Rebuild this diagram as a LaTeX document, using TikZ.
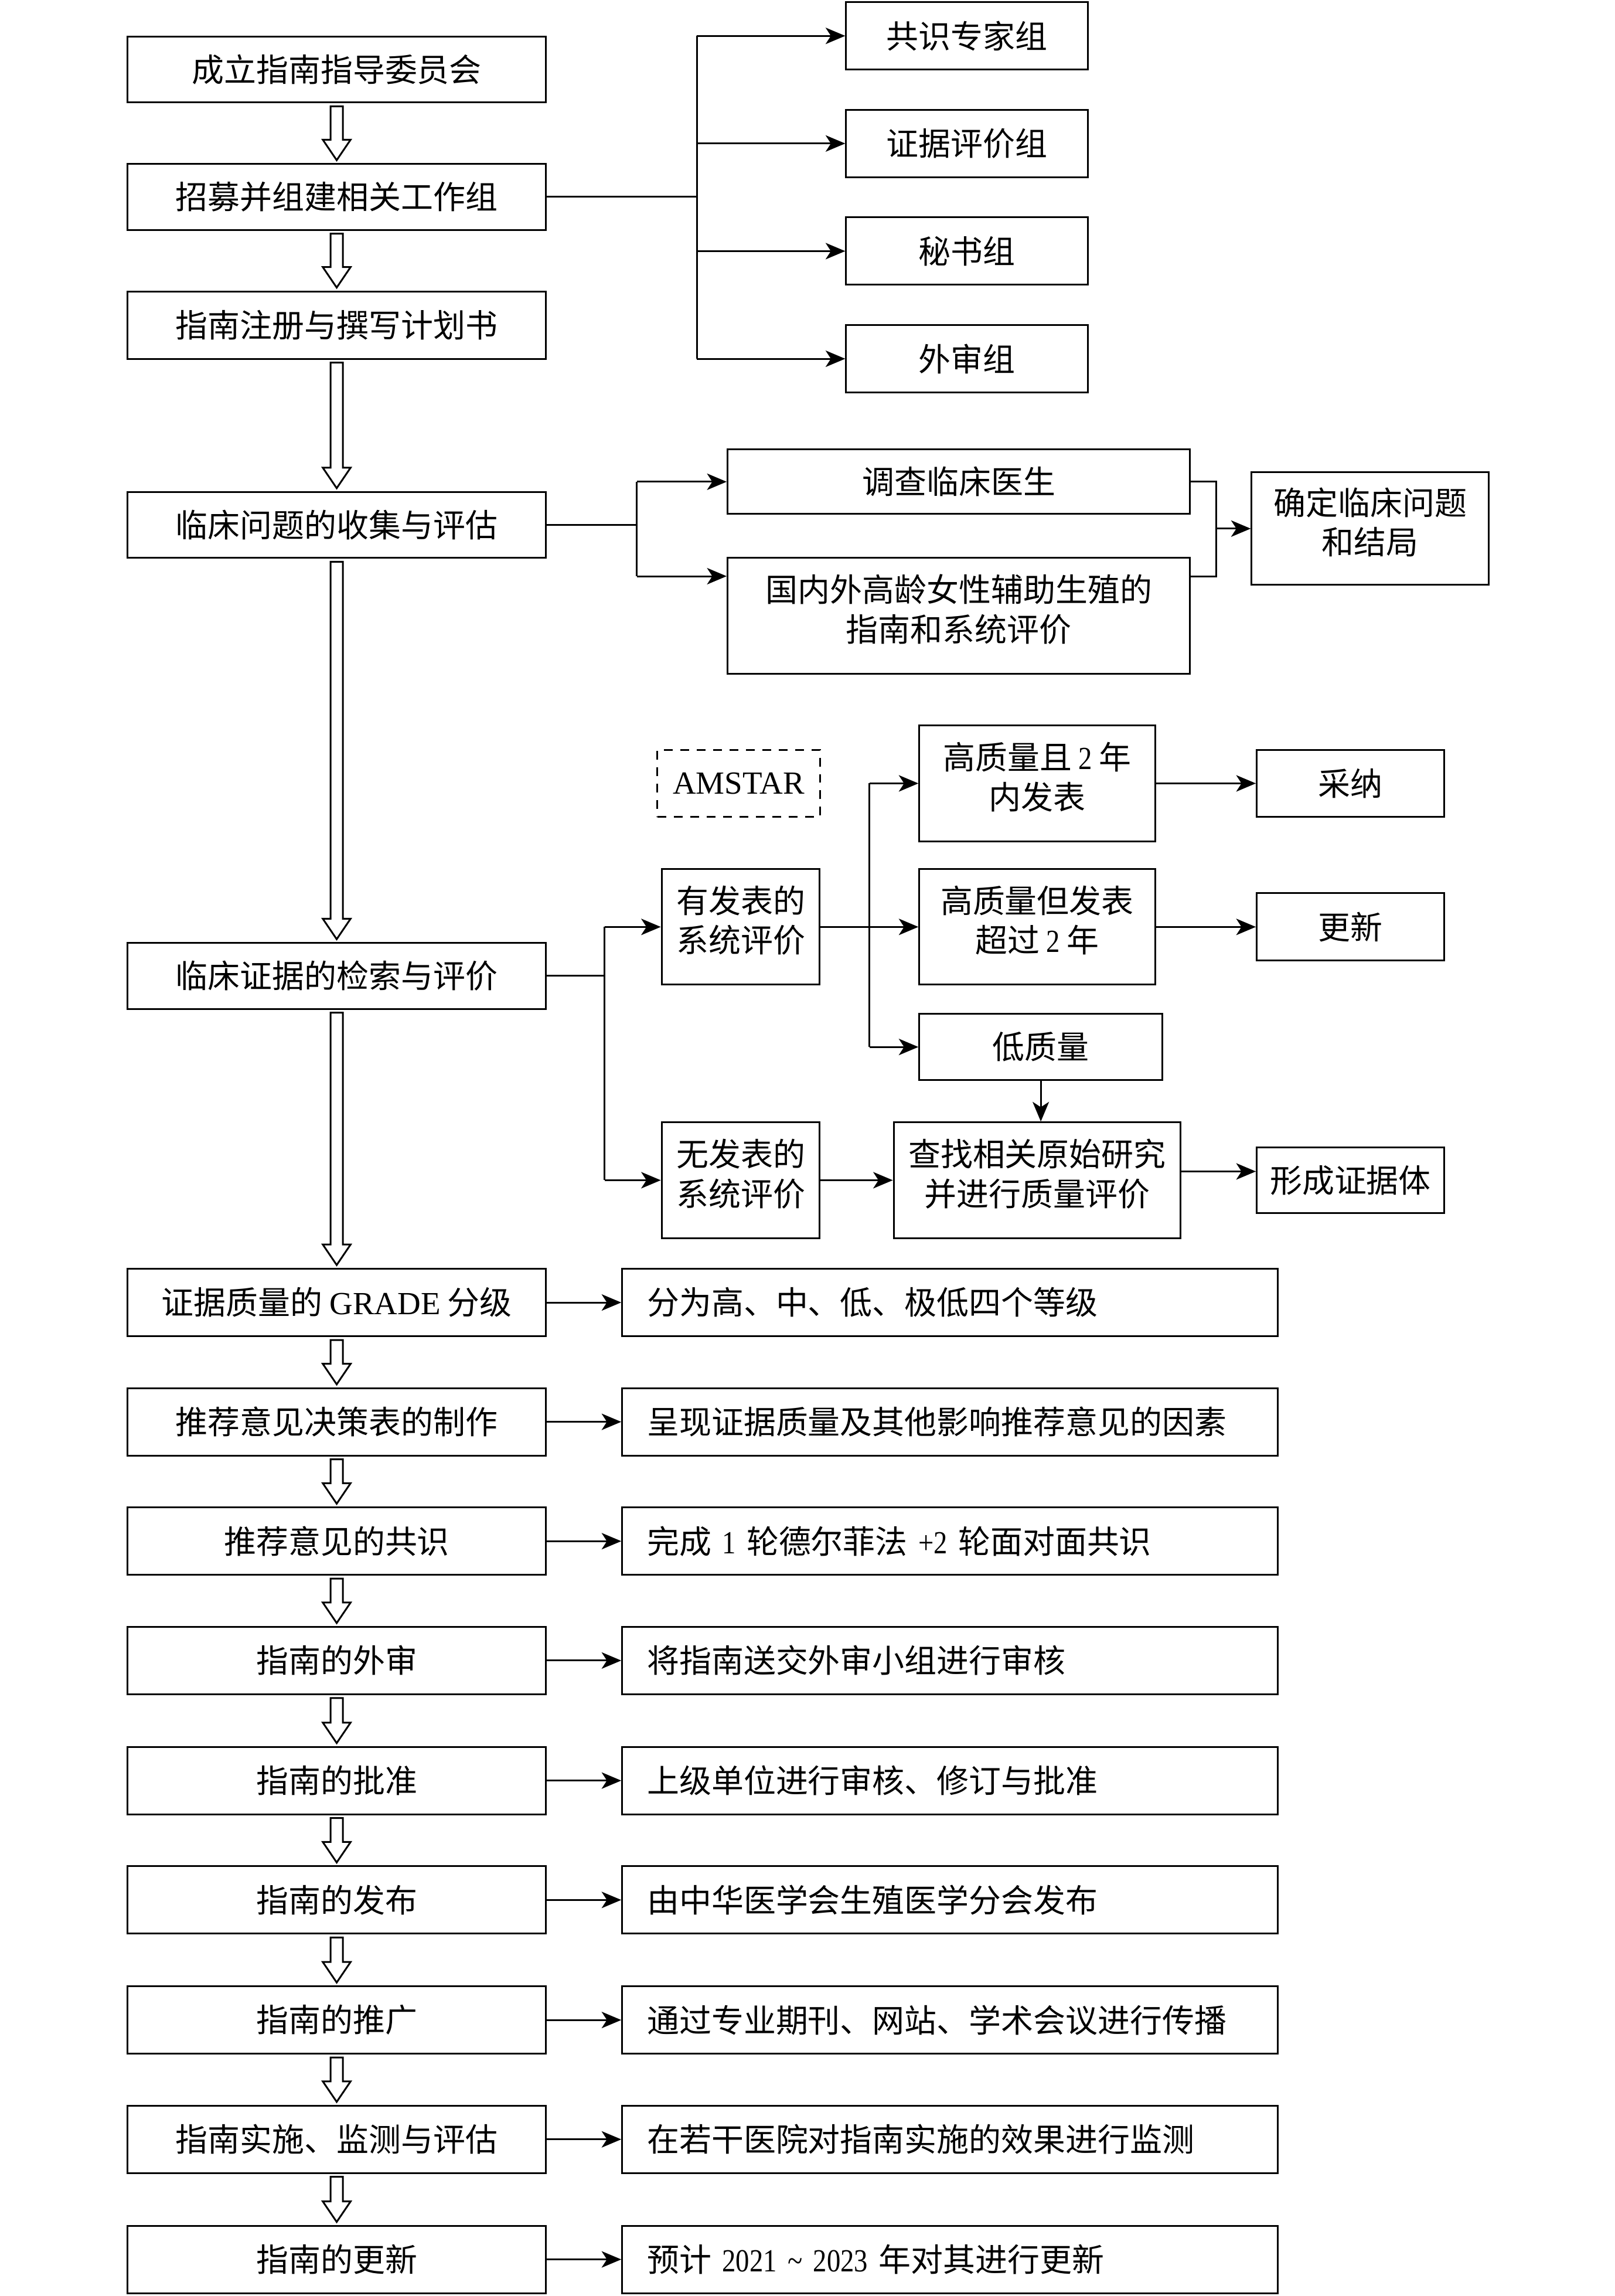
\documentclass[tikz,border=0pt]{standalone}
\usepackage{fontspec}
\setmainfont{Liberation Serif}
\newfontfamily\cjk{Noto Sans CJK SC}
\newfontfamily\lat{Liberation Serif}
\newfontfamily\digf{Liberation Serif}[FakeStretch=0.85]
\usetikzlibrary{arrows.meta,calc}
\begin{document}
\begin{tikzpicture}[x=0.5pt,y=-0.5pt,
  every node/.style={font=\cjk\fontsize{11}{13.5}\selectfont},
  box/.style 2 args={draw,line width=0.6pt,minimum width={#1*0.5pt},minimum height={#2*0.5pt},inner sep=0pt,align=center},
  two/.style={text depth=5.3pt},
  rbox/.style={draw,line width=0.6pt,text width=207pt,inner xsep=8.5pt,inner ysep=0pt,minimum height=23pt,align=left},
  ln/.style={draw,line width=0.6pt},
  arr/.style={draw,line width=0.6pt,-{Stealth[length=6.7pt,width=5.6pt,inset=1.8pt]}},
  dashbox/.style={dash pattern=on 3pt off 2.6pt},
  hollow/.style={draw,line width=0.6pt,fill=white,line join=miter,
    to path={let \p1=(\tikztostart), \p2=(\tikztotarget) in
      (\x1-2.1pt,\y1-1pt) -- (\x1+2.1pt,\y1-1pt) -- (\x1+2.1pt,\y2+8pt) -- (\x1+4.75pt,\y2+8pt)
      -- (\x1,\y2+1pt) -- (\x1-4.75pt,\y2+8pt) -- (\x1-2.1pt,\y2+8pt) -- cycle}}
]
\useasboundingbox (0,0) rectangle (1103,1568);

% left column
\node[box={286}{45}] (b1) at (230,47.5) {成立指南指导委员会};
\node[box={286}{45}] (b2) at (230,134.5) {招募并组建相关工作组};
\node[box={286}{46}] (b3) at (230,222) {指南注册与撰写计划书};
\node[box={286}{45}] (b4) at (230,358.5) {临床问题的收集与评估};
\node[box={286}{45}] (b5) at (230,666.5) {临床证据的检索与评价};
\node[box={286}{46}] (b6) at (230,889.5) {证据质量的 {\lat GRADE} 分级};
\node[box={286}{46}] (b7) at (230,971) {推荐意见决策表的制作};
\node[box={286}{46}] (b8) at (230,1052.5) {推荐意见的共识};
\node[box={286}{46}] (b9) at (230,1134) {指南的外审};
\node[box={286}{46}] (b10) at (230,1216) {指南的批准};
\node[box={286}{46}] (b11) at (230,1297.5) {指南的发布};
\node[box={286}{46}] (b12) at (230,1379.5) {指南的推广};
\node[box={286}{46}] (b13) at (230,1461) {指南实施、监测与评估};
\node[box={286}{46}] (b14) at (230,1543) {指南的更新};

% right column
\node[rbox] (r6) at (649,889.5) {分为高、中、低、极低四个等级};
\node[rbox] (r7) at (649,971) {呈现证据质量及其他影响推荐意见的因素};
\node[rbox] (r8) at (649,1052.5) {完成{\digf\ 1 }轮德尔菲法{\digf\ +2 }轮面对面共识};
\node[rbox] (r9) at (649,1134) {将指南送交外审小组进行审核};
\node[rbox] (r10) at (649,1216) {上级单位进行审核、修订与批准};
\node[rbox] (r11) at (649,1297.5) {由中华医学会生殖医学分会发布};
\node[rbox] (r12) at (649,1379.5) {通过专业期刊、网站、学术会议进行传播};
\node[rbox] (r13) at (649,1461) {在若干医院对指南实施的效果进行监测};
\node[rbox] (r14) at (649,1543) {预计{\digf\ 2021 \char"007E\ 2023 }年对其进行更新};

% working groups
\node[box={165}{46}] (g1) at (660.5,24.5) {共识专家组};
\node[box={165}{46}] (g2) at (660.5,98) {证据评价组};
\node[box={165}{46}] (g3) at (660.5,171.5) {秘书组};
\node[box={165}{46}] (g4) at (660.5,245) {外审组};
\coordinate (jg) at (476,134.5);

% clinical questions
\node[box={316}{44}] (q1) at (655,329) {调查临床医生};
\node[box={316}{79},two] (q2) at (655,420.5) {国内外高龄女性辅助生殖的\\指南和系统评价};
\node[box={162}{77},two] (q3) at (936,361) {确定临床问题\\和结局};
\coordinate (jq) at (435,358.5);
\coordinate (jr) at (831,361);
\coordinate (q2in) at ([yshift=13.5pt]q2.west);
\coordinate (q2out) at ([yshift=13.5pt]q2.east);

% evidence
\node[box={111}{46},dashbox] (am) at (504.6,535) {{\lat AMSTAR}};
\node[box={108}{79},two] (e1) at (506,633) {有发表的\\系统评价};
\node[box={108}{79},two] (e2) at (506,806) {无发表的\\系统评价};
\node[box={161}{79},two] (h1) at (708.5,535) {高质量且{\digf\ 2 }年\\内发表};
\node[box={161}{79},two] (h2) at (708.5,633) {高质量但发表\\超过{\digf\ 2 }年};
\node[box={166}{45}] (h3) at (711,715) {低质量};
\node[box={196}{79},two] (s1) at (708.5,806) {查找相关原始研究\\并进行质量评价};
\node[box={128}{46}] (a1) at (922.5,535) {采纳};
\node[box={128}{46}] (a2) at (922.5,633) {更新};
\node[box={128}{45}] (a3) at (922.5,806) {形成证据体};
\coordinate (je) at (413,666.5);
\coordinate (jh) at (594,633);
\coordinate (s1out) at ([yshift=3pt]s1.east);

% hollow arrows
\draw[hollow] (b1.south) to (b2.north);
\draw[hollow] (b2.south) to (b3.north);
\draw[hollow] (b3.south) to (b4.north);
\draw[hollow] (b4.south) to (b5.north);
\draw[hollow] (b5.south) to (b6.north);
\draw[hollow] (b6.south) to (b7.north);
\draw[hollow] (b7.south) to (b8.north);
\draw[hollow] (b8.south) to (b9.north);
\draw[hollow] (b9.south) to (b10.north);
\draw[hollow] (b10.south) to (b11.north);
\draw[hollow] (b11.south) to (b12.north);
\draw[hollow] (b12.south) to (b13.north);
\draw[hollow] (b13.south) to (b14.north);

% row arrows
\foreach \i in {6,...,14} {\draw[arr] (b\i.east) -- (r\i.west);}

% groups
\draw[ln] (b2.east) -- (jg);
\draw[ln] (jg |- g1.west) -- (jg |- g4.west);
\foreach \g in {g1,g2,g3,g4} {\draw[arr] (jg |- \g.west) -- (\g.west);}

% clinical
\draw[ln] (b4.east) -- (jq);
\draw[ln] (jq |- q1.west) -- (jq |- q2in);
\draw[arr] (jq |- q1.west) -- (q1.west);
\draw[arr] (jq |- q2in) -- (q2in);
\draw[ln] (q1.east) -- (jr |- q1.east) -- (jr |- q2out) -- (q2out);
\draw[arr] (jr) -- (q3.west);

% evidence
\draw[ln] (b5.east) -- (je);
\draw[ln] (je |- e1.west) -- (je |- e2.west);
\draw[arr] (je |- e1.west) -- (e1.west);
\draw[arr] (je |- e2.west) -- (e2.west);
\draw[arr] (e1.east) -- (h2.west);
\draw[ln] (jh |- h1.west) -- (jh |- h3.west);
\draw[arr] (jh |- h1.west) -- (h1.west);
\draw[arr] (jh |- h3.west) -- (h3.west);
\draw[arr] (h1.east) -- (a1.west);
\draw[arr] (h2.east) -- (a2.west);
\draw[arr] (h3.south) -- (h3.south |- s1.north);
\draw[arr] (e2.east) -- (s1.west);
\draw[arr] (s1out) -- (s1out -| a3.west);
\end{tikzpicture}
\end{document}
